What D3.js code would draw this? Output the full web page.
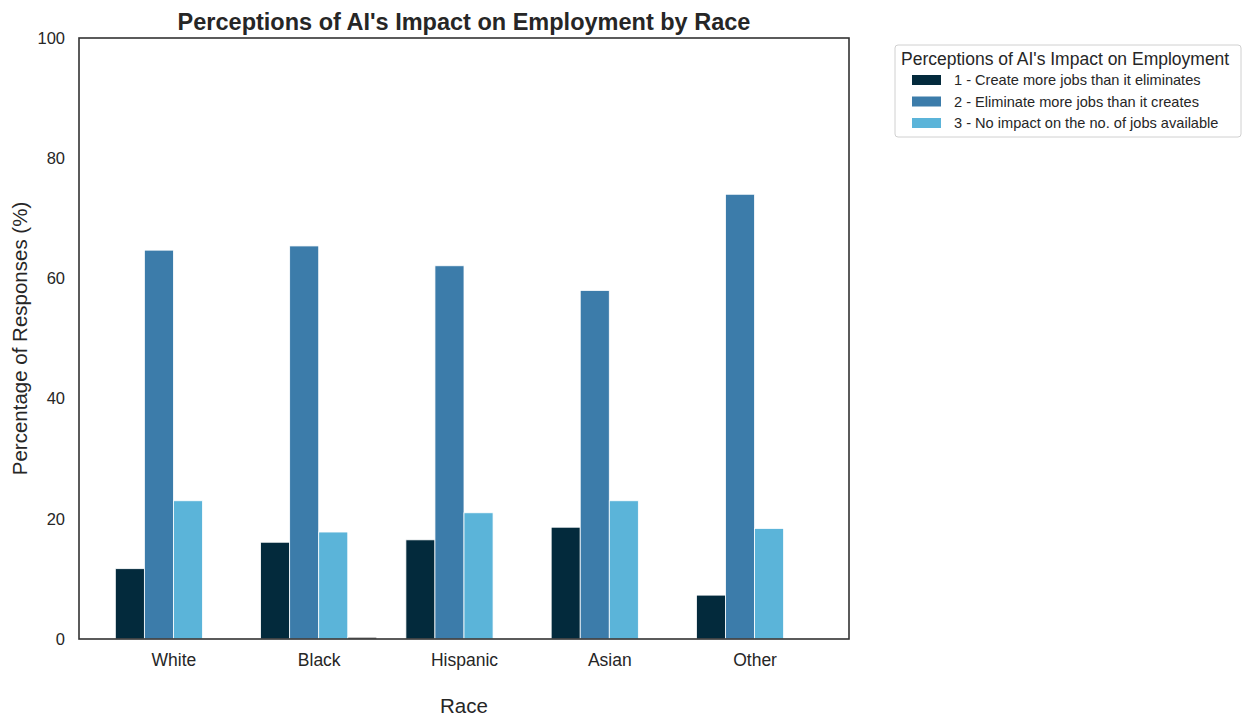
<!DOCTYPE html>
<html>
<head>
<meta charset="utf-8">
<script src="https://cdn.jsdelivr.net/npm/d3@7"></script>
<style>
  body { margin: 0; background: #fff; }
  text { font-family: "Liberation Sans", Arial, sans-serif; fill: #262626; }
</style>
</head>
<body>
<svg id="chart" width="1245" height="717"></svg>
<script>
const categories = ["White", "Black", "Hispanic", "Asian", "Other"];
const seriesNames = [
  "1 - Create more jobs than it eliminates",
  "2 - Eliminate more jobs than it creates",
  "3 - No impact on the no. of jobs available"
];
const create = [11.7, 16.1, 16.5, 18.6, 7.3];
const eliminate = [64.7, 65.4, 62.1, 58.0, 74.0];
const noImpact = [23.0, 17.8, 21.0, 23.0, 18.4];
const other4 = [0, 0.3, 0, 0, 0];
const yTicks = [0, 20, 40, 60, 80, 100];
const colors = ["#032a3c", "#3c7caa", "#5bb4d9", "#444444"];

const seriesValues = [create, eliminate, noImpact, other4];

const svg = d3.select("#chart");
const pLeft = 79, pRight = 849, pTop = 38, pBottom = 639;

const x = d3.scalePoint().domain(categories).range([pLeft, pRight]).padding(0.65);
const step = x.step();
const slotW = step * 0.2;
const y = d3.scaleLinear().domain([0, 100]).range([pBottom, pTop]);

// bars
seriesValues.forEach((vals, si) => {
  svg.append("g").selectAll("rect").data(categories).join("rect")
    .attr("x", (d) => x(d) - step * 0.4 + si * slotW)
    .attr("width", slotW)
    .attr("y", (d, i) => y(vals[i]))
    .attr("height", (d, i) => y(0) - y(vals[i]))
    .attr("fill", colors[si])
    .attr("stroke", "#ffffff")
    .attr("stroke-width", 0.8);
});

// frame
svg.append("rect").attr("x", pLeft).attr("y", pTop)
  .attr("width", pRight - pLeft).attr("height", pBottom - pTop)
  .attr("fill", "none").attr("stroke", "#333333").attr("stroke-width", 1.6);

// y axis
const yAxis = d3.axisLeft(y).tickValues(yTicks).tickSize(0).tickPadding(14);
const yg = svg.append("g").attr("transform", `translate(${pLeft},0)`).call(yAxis);
yg.select(".domain").remove();
yg.selectAll("text").style("font-size", "16.5px").style("fill", "#262626")
  .style("font-family", '"Liberation Sans", Arial, sans-serif');

// x axis
const xAxis = d3.axisBottom(x).tickSize(0).tickPadding(15);
const xg = svg.append("g").attr("transform", `translate(0,${pBottom})`).call(xAxis);
xg.select(".domain").remove();
xg.selectAll("text").style("font-size", "17.5px").style("fill", "#262626")
  .style("font-family", '"Liberation Sans", Arial, sans-serif');

// title
svg.append("text").attr("x", (pLeft + pRight) / 2).attr("y", 30)
  .attr("text-anchor", "middle").style("font-size", "23.5px").style("font-weight", "bold")
  .text("Perceptions of AI's Impact on Employment by Race");

// axis labels
svg.append("text").attr("x", (pLeft + pRight) / 2).attr("y", 713)
  .attr("text-anchor", "middle").style("font-size", "20.5px").text("Race");
svg.append("text").attr("transform", `translate(27,${(pTop + pBottom) / 2}) rotate(-90)`)
  .attr("text-anchor", "middle").style("font-size", "20.5px").text("Percentage of Responses (%)");

// legend
const lg = svg.append("g");
lg.append("rect").attr("x", 895).attr("y", 45).attr("width", 346).attr("height", 92)
  .attr("rx", 3).attr("fill", "#fff").attr("stroke", "#d0d0d0").attr("stroke-width", 1);
lg.append("text").attr("x", 901).attr("y", 65).style("font-size", "17.5px")
  .text("Perceptions of AI's Impact on Employment");
seriesNames.forEach((name, i) => {
  const cy = 80 + i * 21.5;
  lg.append("rect").attr("x", 912).attr("y", cy - 5).attr("width", 29).attr("height", 10)
    .attr("fill", colors[i]);
  lg.append("text").attr("x", 954).attr("y", cy + 5).style("font-size", "14.6px").text(name);
});
</script>
</body>
</html>
